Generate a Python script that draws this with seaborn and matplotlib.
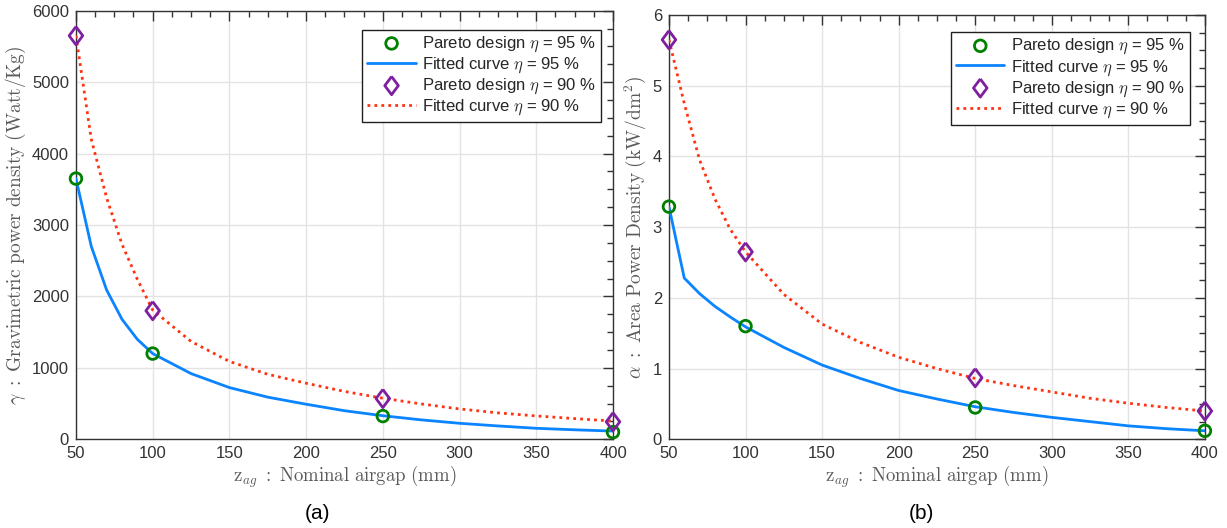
import numpy as np
import pandas as pd
import matplotlib
matplotlib.use("Agg")
import matplotlib.pyplot as plt
from matplotlib.ticker import MultipleLocator
import seaborn as sns

# =========================
# Data
# =========================
airgap_pts = [50, 100, 250, 400]
airgap_fit = [50, 60, 70, 80, 90, 100, 125, 150, 175, 200, 225, 250, 275, 300, 325, 350, 375, 400]

# (a) gravimetric power density, Watt/Kg
grav_pareto_95 = [3650, 1200, 325, 100]
grav_pareto_90 = [5650, 1800, 570, 245]
grav_fit_95 = [3650, 2700, 2090, 1680, 1400, 1200, 920, 724, 590, 491, 400, 330, 272, 224, 187, 154, 133, 115]
grav_fit_90 = [5650, 4200, 3380, 2730, 2240, 1810, 1370, 1090, 910, 785, 670, 575, 495, 425, 370, 327, 290, 255]

# (b) area power density, kW/dm^2
area_pareto_95 = [3.29, 1.60, 0.45, 0.12]
area_pareto_90 = [5.65, 2.65, 0.87, 0.40]
area_fit_95 = [3.29, 2.28, 2.06, 1.88, 1.73, 1.59, 1.30, 1.05, 0.86, 0.69, 0.57, 0.46, 0.38, 0.31, 0.25, 0.19, 0.15, 0.12]
area_fit_90 = [5.65, 4.75, 3.95, 3.40, 2.97, 2.65, 2.05, 1.63, 1.37, 1.16, 1.00, 0.86, 0.76, 0.67, 0.58, 0.51, 0.45, 0.40]

# =========================
# Style
# =========================
sns.set_theme(style="white")
plt.rcParams["font.family"] = ["Liberation Sans", "DejaVu Sans"]
plt.rcParams["mathtext.fontset"] = "cm"

GREEN = "#008000"
PURPLE = "#7E1FA0"
BLUE = "#0A84FF"
RED = "#FF3311"
INK = "#333333"
LABEL_GREY = "#5a5a5a"

# matlab-like diamond, a bit taller than wide
DIAMOND = [(0, 1), (0.75, 0), (0, -1), (-0.75, 0), (0, 1)]


def draw_panel(ax, pareto_95, fit_95, pareto_90, fit_90, ylim, ymajor, yminor, ylabel, anchor):
    fit_df = pd.DataFrame({"x": airgap_fit, "y95": fit_95, "y90": fit_90})
    pts_df = pd.DataFrame({"x": airgap_pts, "y95": pareto_95, "y90": pareto_90})

    sns.lineplot(data=fit_df, x="x", y="y95", ax=ax, color=BLUE, lw=2,
                 label=r"Fitted curve $\eta$ = 95 %", zorder=3)
    sns.lineplot(data=fit_df, x="x", y="y90", ax=ax, color=RED, lw=2,
                 ls=(0, (1, 1.5)), label=r"Fitted curve $\eta$ = 90 %", zorder=3)
    sns.scatterplot(data=pts_df, x="x", y="y95", ax=ax, marker="o", s=70,
                    facecolor="none", edgecolor=GREEN, linewidth=2,
                    label=r"Pareto design $\eta$ = 95 %", zorder=4, clip_on=False)
    sns.scatterplot(data=pts_df, x="x", y="y90", ax=ax, marker=DIAMOND, s=170,
                    facecolor="none", edgecolor=PURPLE, linewidth=2,
                    label=r"Pareto design $\eta$ = 90 %", zorder=4, clip_on=False)

    ax.set_xlim(50, 400)
    ax.set_ylim(*ylim)
    ax.xaxis.set_major_locator(MultipleLocator(50))
    ax.xaxis.set_minor_locator(MultipleLocator(12.5))
    ax.yaxis.set_major_locator(MultipleLocator(ymajor))
    ax.yaxis.set_minor_locator(MultipleLocator(yminor))
    ax.grid(True, which="major", color="#e3e3e3", lw=1)
    ax.set_axisbelow(True)
    ax.tick_params(which="both", direction="in", top=True, right=True,
                   color=INK, labelcolor=INK, labelsize=12)
    ax.tick_params(which="major", length=7, width=1, pad=5)
    ax.tick_params(which="minor", length=4, width=1)
    for sp in ax.spines.values():
        sp.set_color(INK)
        sp.set_linewidth(1)

    ax.set_xlabel(r"$\mathrm{z}_{ag}\ :\ \mathrm{Nominal\ airgap\ (mm)}$",
                  fontsize=13.5, color=LABEL_GREY, labelpad=2)
    ax.set_ylabel(ylabel, fontsize=14, color=LABEL_GREY, labelpad=3)

    handles, labels = ax.get_legend_handles_labels()
    order = [2, 0, 3, 1]
    leg = ax.legend([handles[i] for i in order], [labels[i] for i in order],
                    loc="upper right", bbox_to_anchor=anchor,
                    fontsize=12, handlelength=2.9, frameon=True, fancybox=False,
                    borderpad=0.3, labelspacing=0.1, handletextpad=0.4,
                    borderaxespad=0)
    leg.get_frame().set_edgecolor("#202020")
    leg.get_frame().set_linewidth(1)
    leg.get_frame().set_alpha(1)


fig = plt.figure(figsize=(12.27, 5.28), dpi=100)
ax_a = fig.add_axes([0.0619, 0.168, 0.4377, 0.8117])
ax_b = fig.add_axes([0.5452, 0.168, 0.4368, 0.8036])

draw_panel(ax_a, grav_pareto_95, grav_fit_95, grav_pareto_90, grav_fit_90,
           (0, 6000), 1000, 250,
           r"$\gamma\ :\ \mathrm{Gravimetric\ power\ density\ (Watt/Kg)}$",
           (0.978, 0.956))
draw_panel(ax_b, area_pareto_95, area_fit_95, area_pareto_90, area_fit_90,
           (0, 6), 1, 0.25,
           r"$\alpha\ :\ \mathrm{Area\ Power\ Density\ (kW/dm^2)}$",
           (0.972, 0.96))

fig.text(0.259, 0.028, "(a)", fontsize=15, ha="center", va="center", color="black")
fig.text(0.751, 0.028, "(b)", fontsize=15, ha="center", va="center", color="black")

fig.savefig("out.png", dpi=100)
